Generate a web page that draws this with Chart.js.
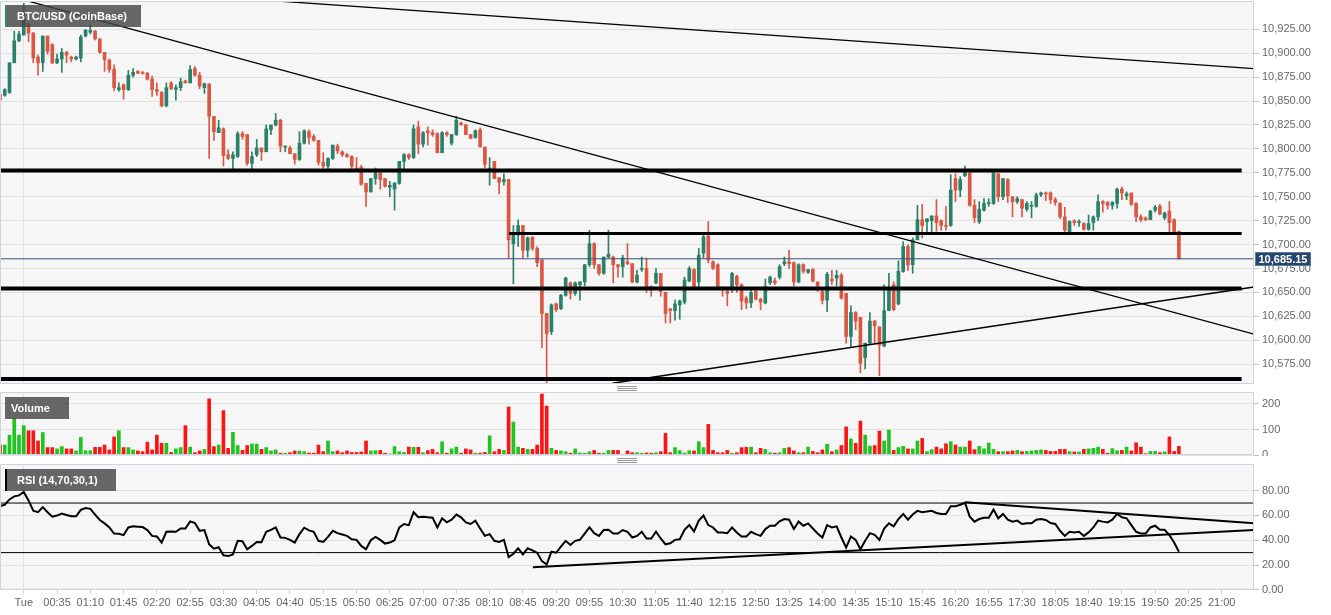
<!DOCTYPE html>
<html>
<head>
<meta charset="utf-8">
<title>BTC/USD (CoinBase)</title>
<script src="https://cdn.jsdelivr.net/npm/chart.js@4.4.1/dist/chart.umd.min.js"></script>
<style>
  html, body { margin: 0; padding: 0; background: #fff; }
  #wrap { position: relative; width: 1331px; height: 615px; overflow: hidden; font-family: "Liberation Sans", Arial, sans-serif; }
  canvas { position: absolute; left: 0; }
  .pane-label { position: absolute; left: 5px; height: 22px; line-height: 22px; box-sizing: border-box; background: rgba(70, 70, 70, 0.82); color: #fff; font-size: 11px; font-weight: bold; white-space: nowrap; }
  .grip { position: absolute; left: 617px; width: 20px; height: 5px; background: repeating-linear-gradient(to bottom, #9a9a9a 0 1px, transparent 1px 2px); }
</style>
</head>
<body>
<div id="wrap">
  <canvas id="priceCanvas" width="1331" height="385" style="top:0"></canvas>
  <canvas id="volumeCanvas" width="1331" height="65" style="top:391px"></canvas>
  <canvas id="rsiCanvas" width="1331" height="152" style="top:463px"></canvas>

  <div class="pane-label" style="top:5px;width:136px;padding-left:10px;border-left:2px solid #2b8a6c">BTC/USD (CoinBase)</div>
  <div class="pane-label" style="top:397px;width:64px;padding-left:6px">Volume</div>
  <div class="pane-label" style="top:469px;width:111px;padding-left:10px;border-left:2px solid #000">RSI (14,70,30,1)</div>
  <div class="grip" style="top:386px"></div>
  <div class="grip" style="top:458px"></div>
</div>

<script>
/**
 * x values are 5 minute steps counted from Tue 00:00 (0), first candle is 23:35
 */
const FIRST_INDEX = -5;
const X_MIN = -5;
const X_MAX = 258.8;

const timeLabels = [
  'Tue', '00:35', '01:10', '01:45', '02:20', '02:55', '03:30', '04:05', '04:40', '05:15',
  '05:50', '06:25', '07:00', '07:35', '08:10', '08:45', '09:20', '09:55', '10:30', '11:05',
  '11:40', '12:15', '12:50', '13:25', '14:00', '14:35', '15:10', '15:45', '16:20', '16:55',
  '17:30', '18:05', '18:40', '19:15', '19:50', '20:25', '21:00',
];

// open, high, low, close
const ohlc = [
  [10857, 10858, 10847, 10851], [10856, 10863, 10855, 10862], [10859, 10890, 10858, 10890], [10890, 10923, 10890, 10913], [10913, 10923, 10912, 10920],
  [10919, 10952, 10919, 10938], [10930, 10931, 10912, 10921], [10921, 10922, 10890, 10895], [10896, 10898, 10877, 10890], [10890, 10918, 10881, 10918],
  [10918, 10918, 10899, 10902], [10909, 10910, 10889, 10890], [10890, 10899, 10889, 10894], [10894, 10905, 10880, 10901], [10901, 10902, 10890, 10898],
  [10896, 10897, 10891, 10894], [10894, 10897, 10893, 10896], [10895, 10919, 10891, 10917], [10918, 10925, 10917, 10924], [10922, 10930, 10920, 10924],
  [10923, 10924, 10914, 10915], [10915, 10915, 10900, 10901], [10901, 10901, 10881, 10893], [10893, 10894, 10880, 10883], [10883, 10888, 10861, 10864],
  [10862, 10869, 10860, 10864], [10867, 10868, 10852, 10862], [10862, 10882, 10861, 10877], [10877, 10884, 10875, 10880], [10881, 10882, 10879, 10879],
  [10880, 10881, 10878, 10879], [10879, 10880, 10872, 10873], [10873, 10876, 10855, 10862], [10862, 10869, 10856, 10860], [10859, 10860, 10844, 10845],
  [10845, 10869, 10844, 10864], [10869, 10870, 10862, 10863], [10862, 10867, 10851, 10864], [10864, 10874, 10861, 10870], [10871, 10872, 10869, 10869],
  [10869, 10887, 10869, 10883], [10884, 10886, 10876, 10877], [10877, 10880, 10863, 10866], [10864, 10869, 10858, 10868], [10868, 10868, 10790, 10834],
  [10834, 10834, 10809, 10818], [10817, 10830, 10817, 10822], [10821, 10822, 10782, 10793], [10794, 10799, 10789, 10790], [10790, 10797, 10778, 10794],
  [10792, 10818, 10791, 10816], [10816, 10818, 10810, 10813], [10815, 10815, 10783, 10785], [10785, 10797, 10778, 10792], [10794, 10810, 10792, 10801],
  [10801, 10801, 10788, 10797], [10797, 10825, 10797, 10821], [10820, 10825, 10815, 10825], [10825, 10837, 10824, 10830], [10830, 10831, 10797, 10803],
  [10802, 10803, 10797, 10803], [10801, 10803, 10795, 10795], [10795, 10795, 10784, 10789], [10789, 10818, 10788, 10806], [10806, 10820, 10805, 10819],
  [10818, 10820, 10805, 10812], [10813, 10815, 10808, 10809], [10809, 10809, 10783, 10786], [10786, 10796, 10780, 10782], [10782, 10791, 10778, 10790],
  [10790, 10804, 10789, 10804], [10803, 10805, 10795, 10798], [10797, 10798, 10792, 10794], [10794, 10795, 10791, 10792], [10792, 10793, 10778, 10782],
  [10780, 10791, 10778, 10778], [10781, 10783, 10762, 10763], [10764, 10764, 10740, 10755], [10755, 10769, 10755, 10769], [10769, 10780, 10763, 10775],
  [10775, 10775, 10758, 10768], [10769, 10769, 10760, 10761], [10760, 10766, 10750, 10762], [10758, 10765, 10736, 10764], [10764, 10787, 10763, 10787],
  [10787, 10795, 10778, 10794], [10794, 10795, 10789, 10791], [10791, 10825, 10790, 10821], [10823, 10829, 10795, 10805], [10805, 10818, 10802, 10817],
  [10819, 10823, 10804, 10817], [10817, 10820, 10813, 10815], [10816, 10817, 10796, 10796], [10796, 10818, 10796, 10817], [10817, 10818, 10813, 10815],
  [10806, 10815, 10804, 10815], [10815, 10834, 10814, 10830], [10827, 10828, 10825, 10825], [10825, 10826, 10815, 10815], [10815, 10815, 10811, 10811],
  [10812, 10820, 10811, 10819], [10820, 10822, 10802, 10802], [10802, 10802, 10780, 10784], [10778, 10791, 10762, 10780], [10787, 10787, 10769, 10769],
  [10770, 10770, 10753, 10765], [10766, 10774, 10762, 10768], [10768, 10768, 10686, 10705], [10701, 10720, 10659, 10710], [10710, 10726, 10698, 10720],
  [10720, 10720, 10686, 10694], [10694, 10708, 10687, 10707], [10708, 10708, 10694, 10696], [10696, 10698, 10677, 10681], [10684, 10684, 10592, 10628],
  [10628, 10628, 10555, 10607], [10609, 10638, 10606, 10637], [10638, 10639, 10630, 10632], [10633, 10648, 10632, 10647], [10647, 10666, 10646, 10665],
  [10660, 10661, 10643, 10649], [10649, 10661, 10647, 10660], [10658, 10661, 10642, 10661], [10661, 10679, 10657, 10679], [10679, 10715, 10677, 10701],
  [10701, 10702, 10675, 10679], [10679, 10679, 10668, 10670], [10670, 10687, 10669, 10687], [10687, 10715, 10686, 10690], [10687, 10688, 10660, 10679],
  [10679, 10679, 10666, 10677], [10677, 10689, 10666, 10686], [10682, 10701, 10679, 10680], [10680, 10680, 10660, 10661], [10661, 10673, 10660, 10668],
  [10674, 10687, 10672, 10675], [10675, 10686, 10650, 10656], [10656, 10657, 10646, 10654], [10660, 10675, 10659, 10670], [10670, 10670, 10646, 10651],
  [10650, 10650, 10618, 10628], [10633, 10633, 10618, 10631], [10631, 10642, 10621, 10638], [10637, 10642, 10622, 10641], [10640, 10666, 10638, 10663],
  [10662, 10677, 10661, 10675], [10674, 10675, 10655, 10656], [10661, 10696, 10656, 10689], [10691, 10712, 10686, 10708], [10709, 10724, 10681, 10684],
  [10682, 10683, 10674, 10675], [10679, 10680, 10656, 10656], [10655, 10656, 10646, 10653], [10651, 10652, 10636, 10649], [10655, 10671, 10650, 10670],
  [10667, 10668, 10650, 10658], [10658, 10659, 10632, 10641], [10644, 10646, 10633, 10639], [10639, 10652, 10634, 10650], [10651, 10653, 10642, 10643],
  [10643, 10644, 10632, 10640], [10639, 10664, 10638, 10656], [10660, 10667, 10658, 10666], [10662, 10665, 10658, 10660], [10666, 10679, 10664, 10677],
  [10680, 10687, 10678, 10682], [10682, 10694, 10675, 10680], [10681, 10682, 10657, 10661], [10661, 10680, 10660, 10679], [10679, 10680, 10670, 10672],
  [10671, 10674, 10670, 10674], [10674, 10675, 10661, 10662], [10661, 10661, 10651, 10657], [10651, 10652, 10638, 10642], [10642, 10671, 10630, 10669],
  [10664, 10673, 10658, 10662], [10665, 10673, 10657, 10668], [10668, 10670, 10643, 10644], [10649, 10649, 10597, 10604], [10604, 10636, 10593, 10629],
  [10629, 10630, 10611, 10620], [10624, 10624, 10566, 10576], [10582, 10597, 10570, 10597], [10597, 10629, 10596, 10620], [10620, 10621, 10596, 10615],
  [10614, 10614, 10563, 10595], [10594, 10658, 10593, 10631], [10631, 10670, 10631, 10653], [10658, 10661, 10631, 10632], [10638, 10683, 10637, 10672],
  [10672, 10703, 10671, 10698], [10698, 10700, 10673, 10679], [10679, 10707, 10670, 10705], [10705, 10741, 10705, 10726], [10726, 10742, 10707, 10720],
  [10724, 10727, 10712, 10727], [10725, 10730, 10712, 10730], [10730, 10747, 10714, 10723], [10725, 10726, 10715, 10720], [10720, 10740, 10715, 10719],
  [10720, 10773, 10719, 10757], [10769, 10774, 10745, 10757], [10757, 10771, 10750, 10768], [10772, 10782, 10771, 10775], [10775, 10775, 10740, 10741],
  [10741, 10747, 10723, 10728], [10724, 10745, 10722, 10737], [10736, 10748, 10735, 10743], [10743, 10748, 10740, 10744], [10743, 10775, 10742, 10775],
  [10774, 10774, 10745, 10750], [10750, 10769, 10747, 10769], [10768, 10769, 10744, 10751], [10750, 10750, 10729, 10745], [10745, 10750, 10743, 10748],
  [10747, 10747, 10729, 10738], [10737, 10745, 10735, 10743], [10740, 10745, 10728, 10741], [10740, 10754, 10739, 10752], [10752, 10755, 10750, 10754],
  [10754, 10755, 10746, 10753], [10754, 10755, 10743, 10747], [10747, 10749, 10741, 10744], [10743, 10744, 10727, 10729], [10729, 10739, 10713, 10715],
  [10713, 10725, 10712, 10724], [10725, 10726, 10720, 10723], [10723, 10726, 10719, 10724], [10722, 10723, 10715, 10716], [10716, 10731, 10715, 10722],
  [10723, 10730, 10715, 10729], [10729, 10752, 10725, 10745], [10745, 10746, 10734, 10743], [10744, 10745, 10737, 10741], [10741, 10745, 10737, 10744],
  [10743, 10759, 10738, 10758], [10758, 10760, 10747, 10754], [10751, 10755, 10747, 10753], [10754, 10754, 10741, 10742], [10743, 10744, 10724, 10729],
  [10729, 10731, 10724, 10726], [10728, 10729, 10725, 10726], [10726, 10736, 10726, 10735], [10736, 10741, 10734, 10739], [10740, 10742, 10731, 10732],
  [10728, 10734, 10726, 10733], [10735, 10745, 10712, 10723], [10726, 10727, 10712, 10712], [10714, 10714, 10685.15, 10685.15],
];

const volumes = [
  39, 39, 78, 144, 78, 115, 95, 95, 55, 88,
  29, 29, 24, 33, 24, 24, 16, 69, 17, 17,
  30, 30, 39, 20, 71, 95, 29, 29, 20, 16,
  13, 50, 20, 78, 46, 46, 10, 24, 29, 115,
  31, 9, 16, 22, 220, 33, 39, 174, 26, 89,
  37, 18, 37, 43, 43, 22, 29, 16, 20, 7,
  7, 9, 16, 16, 13, 8, 7, 39, 13, 55,
  13, 16, 9, 16, 10, 10, 12, 55, 16, 17,
  18, 7, 4, 33, 13, 10, 31, 30, 30, 9,
  17, 22, 9, 52, 7, 24, 31, 7, 24, 20,
  7, 7, 10, 75, 13, 22, 18, 188, 129, 31,
  26, 22, 22, 39, 239, 192, 26, 18, 16, 13,
  7, 24, 8, 7, 13, 18, 7, 7, 18, 18,
  18, 3, 16, 9, 9, 7, 8, 7, 9, 13,
  85, 9, 29, 17, 8, 17, 16, 52, 29, 120,
  18, 9, 9, 18, 7, 9, 29, 30, 31, 9,
  26, 22, 9, 7, 9, 26, 29, 16, 9, 9,
  31, 14, 9, 20, 42, 13, 20, 37, 110, 63,
  46, 133, 78, 35, 37, 94, 55, 98, 18, 29,
  34, 24, 24, 55, 65, 13, 21, 31, 24, 44,
  52, 39, 31, 31, 55, 21, 34, 24, 47, 22,
  13, 13, 13, 16, 18, 13, 14, 16, 18, 20,
  18, 14, 14, 22, 22, 13, 12, 12, 22, 24,
  26, 31, 22, 7, 25, 17, 18, 31, 16, 48,
  31, 5, 14, 14, 9, 12, 71, 14, 34,
];

const rsiValues = [
  67.5, 68.6, 72.9, 75.4, 76.2, 78.9, 72.1, 63.9, 62.6, 66.7,
  62.6, 59.0, 59.9, 61.5, 60.4, 59.3, 59.3, 64.5, 65.9, 65.3,
  60.7, 56.3, 53.6, 50.3, 45.4, 45.2, 44.1, 50.3, 51.2, 50.9,
  50.6, 48.2, 43.5, 43.0, 38.1, 46.8, 47.1, 46.8, 49.5, 49.5,
  55.2, 53.9, 47.6, 48.2, 36.7, 33.2, 34.3, 27.8, 27.2, 28.6,
  39.5, 39.2, 32.7, 35.4, 38.6, 38.4, 46.8, 48.4, 50.3, 42.2,
  41.9, 40.3, 38.1, 44.9, 50.1, 47.9, 46.8, 39.5, 38.6, 42.7,
  47.6, 45.7, 44.6, 43.5, 40.8, 40.3, 35.4, 32.7, 40.0, 42.7,
  40.3, 37.3, 38.1, 40.0, 50.3, 53.1, 52.2, 62.6, 58.5, 59.0,
  58.5, 58.2, 50.3, 57.7, 54.4, 56.6, 60.7, 58.5, 54.4, 53.1,
  55.8, 49.5, 43.5, 44.9, 39.5, 38.6, 40.3, 26.4, 29.1, 33.5,
  28.6, 33.5, 31.8, 29.9, 23.1, 20.4, 30.7, 29.9, 34.8, 39.5,
  36.2, 39.5, 40.3, 45.4, 50.3, 45.7, 43.5, 48.2, 48.4, 45.4,
  45.4, 48.2, 46.8, 42.2, 43.5, 46.8, 41.4, 41.4, 46.8, 41.4,
  36.7, 37.6, 40.3, 40.8, 48.4, 52.2, 47.1, 55.8, 59.9, 52.2,
  50.3, 46.3, 46.3, 45.7, 50.3, 46.3, 43.0, 43.0, 46.8, 44.9,
  43.5, 49.0, 51.7, 51.7, 55.2, 57.1, 56.6, 49.0, 55.0, 51.7,
  53.6, 49.5, 45.4, 42.2, 52.2, 50.3, 51.2, 42.2, 34.0, 43.0,
  40.3, 32.7, 39.5, 45.7, 44.4, 40.3, 49.5, 53.6, 51.2, 57.1,
  61.2, 56.6, 60.7, 63.7, 62.6, 63.1, 63.7, 62.0, 61.2, 61.2,
  67.5, 67.5, 68.6, 70.2, 59.0, 55.0, 57.1, 58.2, 58.2, 64.8,
  57.7, 61.2, 56.6, 55.0, 55.8, 53.1, 53.6, 53.6, 56.6, 57.1,
  56.3, 53.9, 53.1, 47.6, 43.5, 46.8, 46.3, 46.8, 43.5, 46.3,
  50.3, 55.8, 55.0, 54.4, 56.6, 61.2, 58.5, 57.7, 52.2, 46.8,
  45.4, 45.4, 50.3, 51.7, 48.4, 48.4, 44.1, 38.1, 30.7,
];

const priceTicks = [10575, 10600, 10625, 10650, 10675, 10700, 10725, 10750, 10775, 10800, 10825, 10850, 10875, 10900, 10925];
const volumeTicks = [0, 100, 200];
const rsiTicks = [0, 20, 40, 60, 80];

const lastPrice = 10685.15;
const supportLevels = [10777.4, 10654, 10559.5];
const midLevel = 10711.5;
const midLevelStart = 102.1;
const levelEnd = 256.2;
// x1, y1, x2, y2
const priceTrendLines = [
  [-5, 10962.5, 258.8, 10606.3],
  [-5, 10974.6, 258.8, 10884.0],
  [123.8, 10555.1, 258.8, 10655.7],
];
const rsiTrendLines = [
  [198, 70.7, 258.8, 53.6],
  [107.1, 18.2, 258.8, 48.2],
];
const rsiBands = [70, 30];

const FONT = { family: '"Liberation Sans", Arial, sans-serif', size: 11 };
const TEXT = '#666';
const GRID = '#e2e2e2';
const BORDER = '#cdd3e2';
const PANE_BG = '#f6f6f6';
const AXIS_WIDTH = 77;
const UP = '#2a8068';
const DOWN = '#dc5644';

const formatPrice = v => v.toLocaleString('en-US', { minimumFractionDigits: 2, maximumFractionDigits: 2 });

const candleIndex = ohlc.map((_, k) => FIRST_INDEX + k);
const isUp = ohlc.map(([o, , , c]) => c >= o);

/**
 * Straight line between two points, used for levels and trend lines
 */
const segment = (x1, y1, x2, y2, width, color = '#000') => ({
  type: 'line',
  data: [{ x: x1, y: y1 }, { x: x2, y: y2 }],
  borderColor: color,
  borderWidth: width,
  pointRadius: 0,
  clip: 0,
  order: 0,
});

/**
 * Drop the label overhang padding chart.js keeps round the panes
 */
const noOverhang = scale => {
  scale.paddingTop = 0;
  scale.paddingBottom = 0;
  scale.paddingLeft = 0;
  scale.paddingRight = 0;
};

const xScale = showLabels => ({
  type: 'linear',
  min: X_MIN,
  max: X_MAX,
  offset: false,
  afterBuildTicks: scale => {
    scale.ticks = timeLabels.map((_, k) => ({ value: k * 7 }));
  },
  afterFit: scale => {
    noOverhang(scale);
    if (!showLabels) scale.height = 0;
  },
  grid: {
    offset: false,
    color: ctx => (ctx.tick && ctx.tick.value === 0 ? GRID : 'rgba(0,0,0,0)'),
    drawTicks: showLabels,
    tickColor: BORDER,
    tickLength: 4,
  },
  border: { display: false },
  ticks: {
    display: showLabels,
    autoSkip: false,
    maxRotation: 0,
    padding: 3,
    color: TEXT,
    font: FONT,
    callback: v => timeLabels[Math.round(v / 7)],
  },
});

const yScale = (min, max, ticks, format) => ({
  type: 'linear',
  position: 'right',
  min,
  max,
  afterBuildTicks: scale => {
    scale.ticks = ticks.map(value => ({ value }));
  },
  afterFit: scale => {
    noOverhang(scale);
    scale.width = AXIS_WIDTH;
  },
  grid: { color: GRID, tickColor: '#b9bfcc', tickLength: 5 },
  border: { display: false },
  ticks: { color: TEXT, font: FONT, padding: 3, callback: format },
});

/**
 * Pane background and frame
 */
const panePlugin = {
  id: 'pane',
  beforeDraw(chart) {
    const { ctx, chartArea: { left, top, width, height } } = chart;
    ctx.save();
    ctx.fillStyle = PANE_BG;
    ctx.fillRect(left, top, width, height);
    ctx.restore();
  },
  afterDraw(chart) {
    const { ctx, chartArea: { left, top, width, height } } = chart;
    ctx.save();
    ctx.strokeStyle = BORDER;
    ctx.lineWidth = 1;
    ctx.strokeRect(left + 0.5, top + 0.5, width - 1, height - 1);
    ctx.restore();
  },
};

/**
 * Last price tag on the price axis
 */
const priceTagPlugin = {
  id: 'priceTag',
  afterDraw(chart) {
    const { ctx, chartArea, scales: { y } } = chart;
    const py = Math.round(y.getPixelForValue(lastPrice));
    const text = formatPrice(lastPrice);
    ctx.save();
    ctx.font = `bold 11px ${FONT.family}`;
    const w = ctx.measureText(text).width + 7;
    const x = chartArea.right + 1;
    ctx.fillStyle = '#27466f';
    ctx.fillRect(x, py - 7, w, 14);
    ctx.strokeStyle = '#5d7799';
    ctx.strokeRect(x + 0.5, py - 6.5, w - 1, 13);
    ctx.fillStyle = '#fff';
    ctx.textBaseline = 'middle';
    ctx.fillText(text, x + 3.5, py + 0.5);
    ctx.restore();
  },
};

const commonOptions = padding => ({
  responsive: false,
  animation: false,
  events: [],
  devicePixelRatio: 1,
  layout: { padding, autoPadding: false },
  plugins: { legend: { display: false }, tooltip: { enabled: false } },
});

// price pane
new Chart(document.getElementById('priceCanvas'), {
  type: 'bar',
  data: {
    datasets: [
      ...priceTrendLines.map(([x1, y1, x2, y2]) => segment(x1, y1, x2, y2, 1.3)),
      ...supportLevels.map(level => segment(X_MIN, level, levelEnd, level, 4)),
      segment(midLevelStart, midLevel, levelEnd, midLevel, 3),
      segment(X_MIN, lastPrice, X_MAX, lastPrice, 1, '#34507a'),
      {
        data: ohlc.map(([o, , , c], k) => ({ x: candleIndex[k], y: [Math.min(o, c), Math.max(o, c)] })),
        backgroundColor: isUp.map(up => (up ? UP : DOWN)),
        barThickness: 3,
        minBarLength: 1,
        grouped: false,
        clip: 0,
        order: 1,
      },
      {
        data: ohlc.map(([, h, l], k) => ({ x: candleIndex[k], y: [l, h] })),
        backgroundColor: isUp.map(up => (up ? UP : DOWN)),
        barThickness: 1,
        grouped: false,
        clip: 0,
        order: 2,
      },
    ],
  },
  options: {
    ...commonOptions({ top: 1, bottom: 1, left: 0, right: 0 }),
    scales: {
      x: xScale(false),
      y: yScale(10554.3, 10954.6, priceTicks, formatPrice),
    },
  },
  plugins: [panePlugin, priceTagPlugin],
});

// volume pane
new Chart(document.getElementById('volumeCanvas'), {
  type: 'bar',
  data: {
    datasets: [
      {
        data: volumes.map((v, k) => ({ x: candleIndex[k], y: v })),
        backgroundColor: isUp.map(up => (up ? '#1fc41f' : '#fb1414')),
        barThickness: 3,
        clip: 0,
      },
    ],
  },
  options: {
    ...commonOptions({ top: 1, bottom: 1, left: 0, right: 0 }),
    scales: {
      x: xScale(false),
      y: yScale(0, 247, volumeTicks, v => String(v)),
    },
  },
  plugins: [panePlugin],
});

// RSI pane with the time axis
new Chart(document.getElementById('rsiCanvas'), {
  type: 'line',
  data: {
    datasets: [
      ...rsiTrendLines.map(([x1, y1, x2, y2]) => segment(x1, y1, x2, y2, 2)),
      ...rsiBands.map(band => segment(X_MIN, band, X_MAX, band, 1)),
      {
        data: rsiValues.map((v, k) => ({ x: candleIndex[k], y: v })),
        borderColor: '#000',
        borderWidth: 2,
        pointRadius: 0,
        tension: 0,
        clip: 0,
        order: 1,
      },
    ],
  },
  options: {
    ...commonOptions({ top: 1, bottom: 2, left: 0, right: 0 }),
    scales: {
      x: xScale(true),
      y: yScale(0, 101.5, rsiTicks, v => v.toFixed(2)),
    },
  },
  plugins: [panePlugin],
});
</script>
</body>
</html>
